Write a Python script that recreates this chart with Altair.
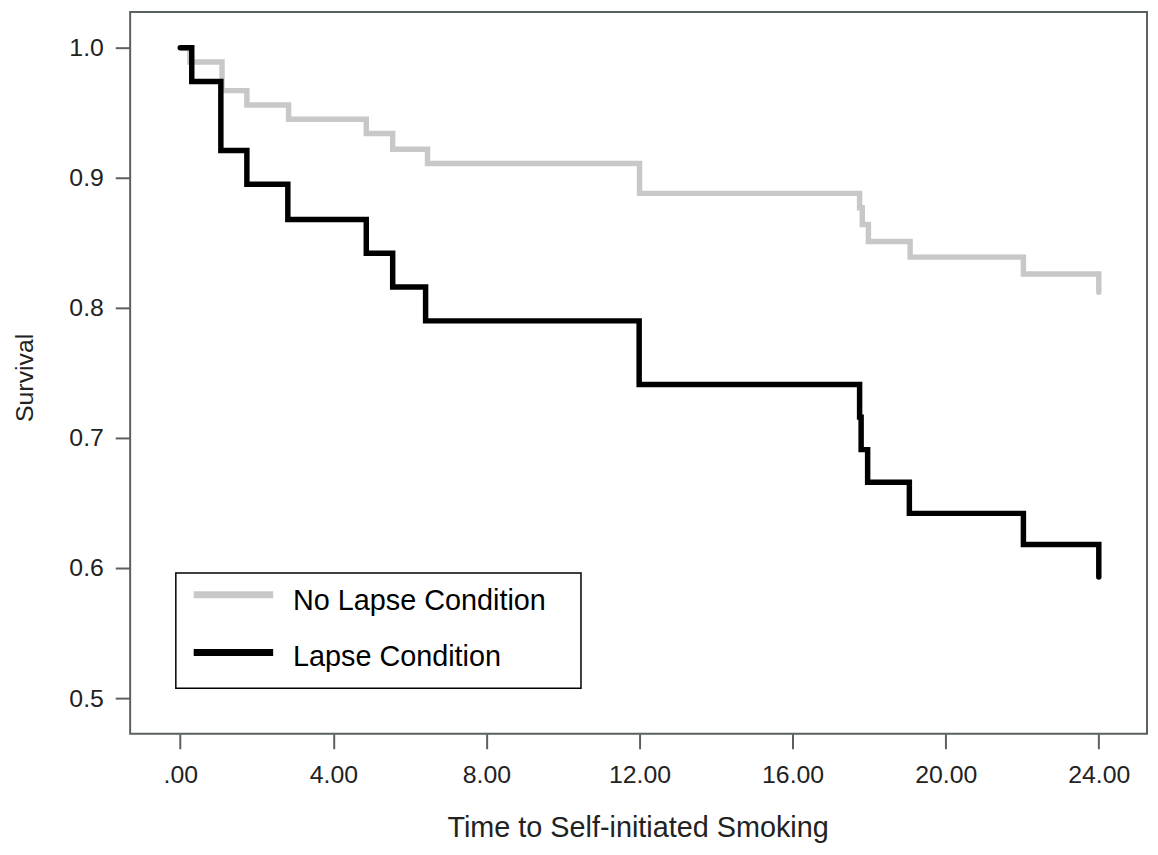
import altair as alt
import pandas as pd

# Kaplan-Meier step data
no_lapse_time = [0.0, 0.25, 1.09, 1.74, 2.83, 4.86, 5.55, 6.46, 12.0, 17.75, 17.82, 17.98, 19.07, 22.03, 24.0]
no_lapse_surv = [1.0, 0.989, 0.967, 0.956, 0.945, 0.934, 0.922, 0.911, 0.888, 0.877, 0.864, 0.851, 0.839, 0.826, 0.812]

lapse_time = [0.0, 0.30, 1.06, 1.74, 2.81, 4.86, 5.55, 6.41, 11.99, 17.75, 17.79, 17.96, 19.05, 22.03, 24.0]
lapse_surv = [1.0, 0.974, 0.921, 0.895, 0.868, 0.842, 0.816, 0.790, 0.741, 0.716, 0.691, 0.666, 0.642, 0.618, 0.593]

groups = ["No Lapse Condition", "Lapse Condition"]
colors = ["#c8c8c8", "#000000"]

x_ticks = [0, 4, 8, 12, 16, 20, 24]
y_ticks = [0.5, 0.6, 0.7, 0.8, 0.9, 1.0]

df = pd.concat([
    pd.DataFrame({"time": no_lapse_time, "surv": no_lapse_surv, "group": groups[0], "ord": range(len(no_lapse_time))}),
    pd.DataFrame({"time": lapse_time, "surv": lapse_surv, "group": groups[1], "ord": range(len(lapse_time))}),
])
legend_df = pd.DataFrame({"group": groups})

FONT = "Liberation Sans"
FRAME = "#5a5f5f"

x_enc = alt.X(
    "time:Q",
    scale=alt.Scale(domain=[-1.31, 25.26], nice=False, zero=False),
    axis=alt.Axis(
        values=x_ticks,
        labelExpr="datum.value == 0 ? '.00' : format(datum.value, '.2f')",
        title="Time to Self-initiated Smoking",
        titleFontSize=29, titleFontWeight="normal", titleFont=FONT, titleColor="#222222",
        titleX=511, titleY=103, titleBaseline="alphabetic", titleAlign="center",
        labelFontSize=25, labelFont=FONT, labelColor="#222222", labelPadding=14,
        tickSize=15, tickWidth=2, tickColor=FRAME, domain=False, grid=False,
    ),
)
y_enc = alt.Y(
    "surv:Q",
    scale=alt.Scale(domain=[0.4725, 1.0275], nice=False, zero=False),
    axis=alt.Axis(
        values=y_ticks, format=".1f",
        title="Survival",
        titleFontSize=25, titleFontWeight="normal", titleFont=FONT, titleColor="#222222",
        titleAngle=270, titleX=-98, titleY=368, titleBaseline="alphabetic", titleAlign="center",
        labelFontSize=25, labelFont=FONT, labelColor="#222222", labelPadding=12,
        tickSize=15, tickWidth=2, tickColor=FRAME, domain=False, grid=False,
    ),
)
color_scale = alt.Scale(domain=groups, range=colors)

base = alt.Chart(df)
gray = base.transform_filter(alt.datum.group == groups[0]).mark_line(
    interpolate="step-after", strokeWidth=5.5, strokeCap="round"
).encode(x=x_enc, y=y_enc, color=alt.Color("group:N", scale=color_scale, legend=None), order="ord:Q")
black = base.transform_filter(alt.datum.group == groups[1]).mark_line(
    interpolate="step-after", strokeWidth=5.5, strokeCap="round"
).encode(x=x_enc, y=y_enc, color=alt.Color("group:N", scale=color_scale, legend=None), order="ord:Q")

# legend drawn as a boxed key
leg = alt.Chart(legend_df)
leg_box = leg.transform_filter(alt.datum.group == groups[0]).mark_rect(
    fill="white", stroke="black", strokeWidth=1.5
).encode(x=alt.value(46), x2=alt.value(454), y=alt.value(565), y2=alt.value(681))

leg_rows = []
for g, sym_y, txt_y in [(groups[0], 587, 602), (groups[1], 645, 659)]:
    one = leg.transform_filter(alt.datum.group == g)
    leg_rows.append(one.mark_rule(strokeWidth=7).encode(
        x=alt.value(64), x2=alt.value(144), y=alt.value(sym_y),
        color=alt.Color("group:N", scale=color_scale, legend=None)))
    leg_rows.append(one.mark_text(
        align="left", baseline="alphabetic", fontSize=29, font=FONT, color="black"
    ).encode(x=alt.value(164), y=alt.value(txt_y), text="group:N"))

chart = alt.layer(gray, black, leg_box, *leg_rows).properties(
    width=1024, height=727,
    autosize=alt.AutoSizeParams(type="none"),
    padding={"left": 123, "top": 1, "right": 3, "bottom": 115},
).configure(background="white").configure_view(
    stroke=FRAME, strokeWidth=2
)

chart.save("out.html", embed_options={"renderer": "svg", "actions": False})
